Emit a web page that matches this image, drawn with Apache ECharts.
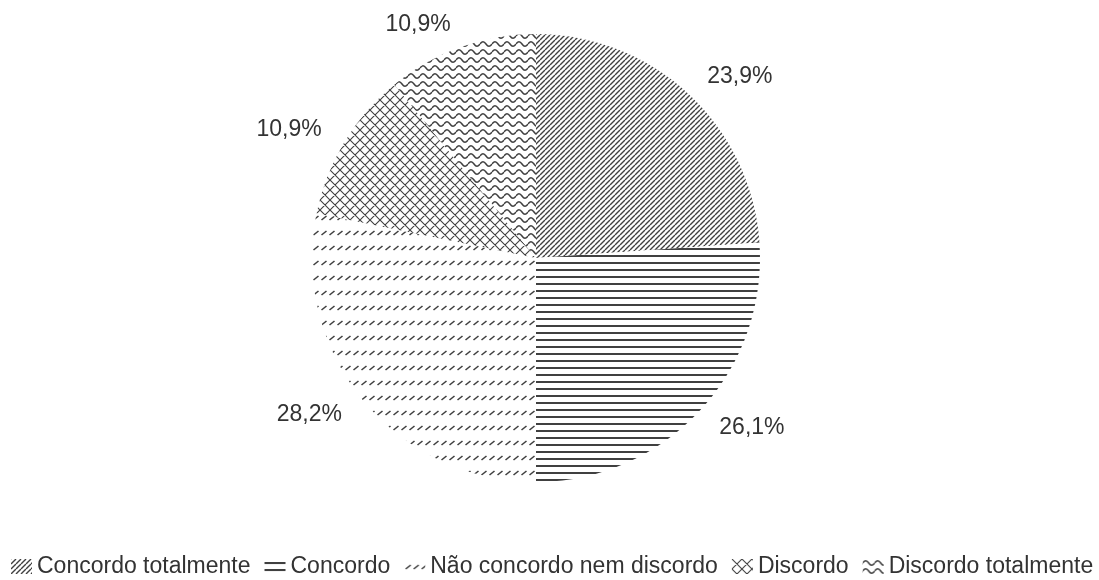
<!DOCTYPE html>
<html>
<head>
<meta charset="utf-8">
<script src="https://cdn.jsdelivr.net/npm/echarts@6/dist/echarts.min.js"></script>
<style>
  html, body { margin: 0; padding: 0; background: #fff; }
  #chart { width: 1099px; height: 580px; }
</style>
</head>
<body>
<div id="chart"></div>
<script>
const categories = ['Concordo totalmente', 'Concordo', 'Não concordo nem discordo', 'Discordo', 'Discordo totalmente'];
const values = [23.9, 26.1, 28.2, 10.9, 10.9];
const valueLabels = ['23,9%', '26,1%', '28,2%', '10,9%', '10,9%'];

const INK = '#404040';
const FONT = 'Liberation Sans, Arial, sans-serif';

// hatch fills, drawn on small tiles
function makePattern(w, h, draw) {
    const c = document.createElement('canvas');
    c.width = w;
    c.height = h;
    const ctx = c.getContext('2d');
    ctx.fillStyle = '#fff';
    ctx.fillRect(0, 0, w, h);
    ctx.strokeStyle = INK;
    ctx.fillStyle = INK;
    draw(ctx, w, h);
    return { image: c, repeat: 'repeat' };
}

const patterns = [
    // upward diagonal lines
    makePattern(5, 5, function (ctx, w, h) {
        ctx.lineWidth = 1.4;
        ctx.beginPath();
        for (let k = -1; k <= 1; k++) {
            ctx.moveTo(k * w, h);
            ctx.lineTo(k * w + w, 0);
        }
        ctx.stroke();
    }),
    // horizontal lines
    makePattern(8, 7, function (ctx, w, h) {
        ctx.fillRect(0, 3, w, 2);
    }),
    // dashed upward diagonal
    makePattern(8, 15, function (ctx, w, h) {
        ctx.lineWidth = 1.6;
        ctx.beginPath();
        ctx.moveTo(1.5, 10);
        ctx.lineTo(6.5, 6);
        ctx.stroke();
    }),
    // diagonal cross
    makePattern(10, 10, function (ctx, w, h) {
        ctx.lineWidth = 1.1;
        ctx.beginPath();
        for (let k = -1; k <= 1; k++) {
            ctx.moveTo(k * w, h);
            ctx.lineTo(k * w + w, 0);
            ctx.moveTo(k * w, 0);
            ctx.lineTo(k * w + w, h);
        }
        ctx.stroke();
    }),
    // wave
    makePattern(12, 8, function (ctx, w, h) {
        ctx.lineWidth = 1.5;
        ctx.beginPath();
        ctx.moveTo(0, 4);
        ctx.bezierCurveTo(2, 1, 4, 1, 6, 4);
        ctx.bezierCurveTo(8, 7, 10, 7, 12, 4);
        ctx.stroke();
    })
];

const chart = echarts.init(document.getElementById('chart'), null, { renderer: 'canvas' });

const option = {
    animation: false,
    backgroundColor: '#fff',
    legend: {
        data: categories,
        left: 11,
        top: 555,
        width: 1088,
        padding: 0,
        itemWidth: 21,
        itemHeight: 15,
        itemGap: 14,
        icon: 'rect',
        textStyle: {
            fontFamily: FONT,
            fontSize: 23,
            color: '#333'
        }
    },
    series: [{
        type: 'pie',
        center: [536, 258],
        radius: 224,
        startAngle: 90,
        clockwise: true,
        data: categories.map(function (name, i) {
            return { name: name, value: values[i], itemStyle: { color: patterns[i] } };
        }),
        label: {
            position: 'outside',
            fontFamily: FONT,
            fontSize: 23,
            color: '#333',
            distanceToLabelLine: 2,
            formatter: function (p) { return valueLabels[p.dataIndex]; }
        },
        labelLine: { show: false, length: 24, length2: 0 },
        itemStyle: { borderWidth: 0 },
        emphasis: { disabled: true }
    }]
};

chart.setOption(option);
</script>
</body>
</html>
